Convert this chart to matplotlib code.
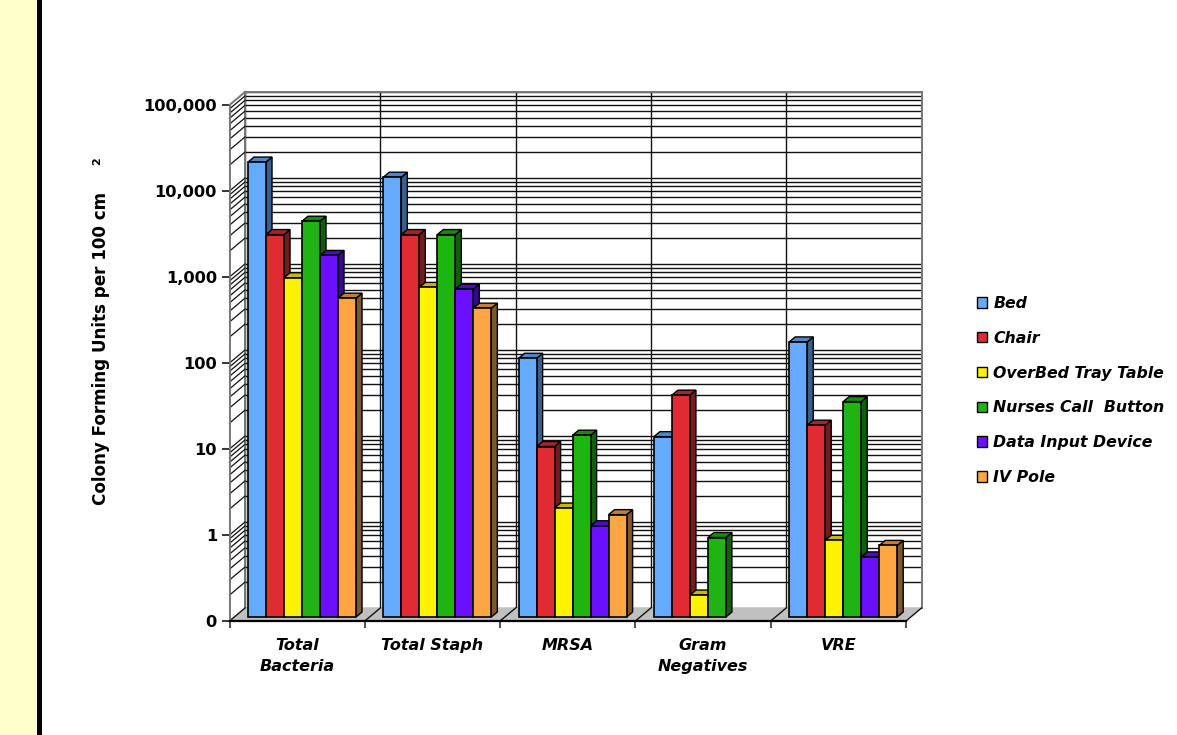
import numpy as np
import matplotlib
matplotlib.use("Agg")
import matplotlib.pyplot as plt
from matplotlib.patches import Rectangle, Polygon, Patch
from matplotlib.lines import Line2D
from matplotlib.transforms import Affine2D, IdentityTransform
from matplotlib.ticker import LogLocator, NullFormatter

W, H = 1177, 735

categories = ["Total\nBacteria", "Total Staph", "MRSA", "Gram\nNegatives", "VRE"]
bed = [19500, 13000, 102, 12.5, 158]
chair = [2800, 2800, 9.6, 38, 17]
tray = [880, 680, 1.85, 0.18, 0.78]
nurses = [4000, 2800, 13, 0.84, 32]
data_input = [1600, 650, 1.15, np.nan, 0.5]
iv_pole = [510, 390, 1.55, np.nan, 0.68]

series_names = ["Bed", "Chair", "OverBed Tray Table", "Nurses Call  Button",
                "Data Input Device", "IV Pole"]
series_vals = [bed, chair, tray, nurses, data_input, iv_pole]
front_cols = ["#66aaff", "#df2c33", "#fff200", "#1fb414", "#6a10ff", "#ffa643"]
top_cols = ["#4f86c8", "#ab2328", "#c9b800", "#178a0f", "#4d0cc0", "#c07f35"]
side_cols = ["#3a5f8f", "#751a1e", "#807a00", "#10600a", "#37088a", "#80562a"]

ytick_vals = [0.1, 1, 10, 100, 1000, 10000, 100000]
ytick_labels = ["0", "1", "10", "100", "1,000", "10,000", "100,000"]

# pixel layout of the fake 3d box
LEFT, RIGHT, BASE, TOP = 229.5, 906, 621, 105
DEPTH_X, DEPTH_Y = 15.5, 13
BAR_DX, BAR_DY = 5, 4
SIDE_DX, SIDE_DY = 6, 5
BAR_W = 18 / 135.3

plt.rcParams["font.family"] = ["DejaVu Sans"]
plt.rcParams["font.weight"] = "bold"

fig = plt.figure(figsize=(W / 100, H / 100), dpi=100, facecolor="white")


def box(l, r, b, t):
    return [l / W, 1 - b / H, (r - l) / W, (b - t) / H]


fig.add_artist(Rectangle((0, 0), 36.5 / W, 1, transform=fig.transFigure, fc="#ffffcc", ec="none"))
fig.add_artist(Rectangle((36.5 / W, 0), 5.5 / W, 1, transform=fig.transFigure, fc="black", ec="none"))

# back wall, same scale as the front axes
back = fig.add_axes(box(LEFT + DEPTH_X, RIGHT + DEPTH_X, BASE - DEPTH_Y, TOP - DEPTH_Y))
back.set_yscale("log")
back.set_ylim(0.1, 100000)
back.set_xlim(0, 5)
back.yaxis.set_major_locator(LogLocator(base=10, numticks=10))
back.yaxis.set_minor_locator(LogLocator(base=10, subs=range(2, 10), numticks=10))
back.yaxis.set_minor_formatter(NullFormatter())
back.set_xticks(range(6))
back.grid(True, which="both", color="#111111", lw=1.0)
back.tick_params(which="both", length=0, labelleft=False, labelbottom=False)
for s in back.spines.values():
    s.set_color("#777777")
    s.set_linewidth(1.4)
back.spines["bottom"].set_visible(False)

ax = fig.add_axes(box(LEFT, RIGHT, BASE, TOP))
ax.patch.set_visible(False)
ax.set_yscale("log")
ax.set_ylim(0.1, 100000)
ax.set_xlim(0, 5)
for name in ["top", "right"]:
    ax.spines[name].set_visible(False)
ax.spines["left"].set_color("#777777")
ax.spines["left"].set_linewidth(1.4)
ax.spines["bottom"].set_linewidth(1.6)

ax.set_yticks(ytick_vals)
ax.set_yticklabels(ytick_labels, fontsize=11.7)
ax.yaxis.set_minor_locator(plt.NullLocator())
ax.tick_params(axis="y", length=6, width=1.1, pad=3)
ax.set_xticks(range(6))
ax.set_xticklabels([])
ax.set_xticks(np.arange(5) + 0.5, minor=True)
ax.set_xticklabels(categories, minor=True, fontsize=11.5, style="italic", linespacing=1.55)
ax.tick_params(axis="x", which="major", length=5, width=1.1, color="#222222")
ax.tick_params(axis="x", which="minor", length=0, pad=12)


def px(x, y, dx=0, dy=0):
    p = ax.transData.transform((x, y))
    return p[0] + dx, p[1] + dy


def add_poly(points, **kw):
    ax.add_patch(Polygon(points, closed=True, transform=IdentityTransform(), clip_on=False, **kw))


def add_line(p0, p1, **kw):
    ax.add_line(Line2D([p0[0], p1[0]], [p0[1], p1[1]], transform=IdentityTransform(), clip_on=False, **kw))


# floor
add_poly([px(0, 0.1), px(5, 0.1), px(5, 0.1, DEPTH_X, DEPTH_Y), px(0, 0.1, DEPTH_X, DEPTH_Y)],
         fc="#c0c0c0", ec="none", zorder=1)
for k in range(6):
    add_line(px(k, 0.1), px(k, 0.1, DEPTH_X, DEPTH_Y), color="#111111", lw=1.0, zorder=1.5)

# left wall lines
for decade in range(-1, 5):
    for m in range(1, 10):
        v = m * 10.0 ** decade
        if v > 0.1:
            add_line(px(0, v), px(0, v, DEPTH_X, DEPTH_Y), color="#111111", lw=0.9, zorder=1.5)
add_line(px(0, 100000), px(0, 100000, DEPTH_X, DEPTH_Y), color="#777777", lw=1.4, zorder=1.6)

# bars left to right so each front covers the side of the one before
shift = Affine2D().translate(BAR_DX, BAR_DY)
for i, vals in enumerate(series_vals):
    for g, v in enumerate(vals):
        if np.isnan(v):
            continue
        x0 = g + 0.1 + i * BAR_W
        x1 = x0 + BAR_W
        z = 3 + g * 10 + i
        dx0, dy0 = BAR_DX, BAR_DY
        dx1, dy1 = BAR_DX + SIDE_DX, BAR_DY + SIDE_DY
        add_poly([px(x1, 0.1, dx0, dy0), px(x1, v, dx0, dy0), px(x1, v, dx1, dy1), px(x1, 0.1, dx1, dy1)],
                 fc=side_cols[i], ec="black", lw=1.0, zorder=z)
        add_poly([px(x0, v, dx0, dy0), px(x1, v, dx0, dy0), px(x1, v, dx1, dy1), px(x0, v, dx1, dy1)],
                 fc=top_cols[i], ec="black", lw=1.0, zorder=z)
        ax.bar(x0, v - 0.1, bottom=0.1, width=BAR_W, align="edge", color=front_cols[i],
               edgecolor="black", linewidth=1.2, zorder=z + 0.5,
               transform=ax.transData + shift, clip_on=False)

ax.set_xlim(0, 5)
ax.set_ylim(0.1, 100000)

# axis title and its detached superscript
fig.text(101 / W, 1 - 348 / H, "Colony Forming Units per 100 cm", rotation=90,
         ha="center", va="center", fontsize=12.1)
fig.text(97.5 / W, 1 - 161 / H, "2", rotation=90, ha="center", va="center", fontsize=8)

handles = [Patch(fc=c, ec="black", lw=1.0) for c in front_cols]
fig.legend(handles, series_names, loc="upper left", bbox_to_anchor=(977 / W, 1 - 296 / H),
           frameon=False, prop={"size": 11.3, "style": "italic", "weight": "bold"},
           handlelength=0.64, handleheight=0.64, handletextpad=0.4, labelspacing=1.26,
           borderpad=0, borderaxespad=0)

fig.savefig("out.png", dpi=100, facecolor="white")
